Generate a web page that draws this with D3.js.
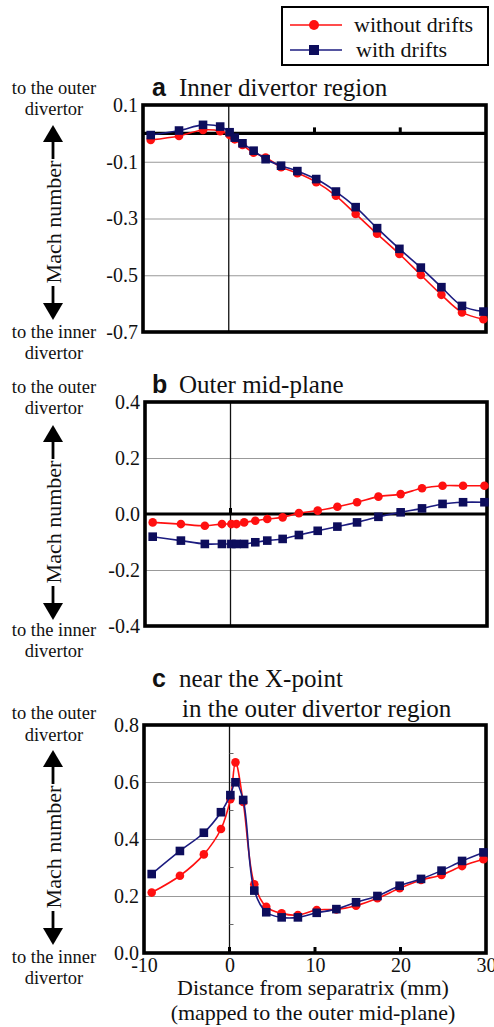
<!DOCTYPE html>
<html>
<head>
<meta charset="utf-8">
<script src="https://d3js.org/d3.v7.min.js"></script>
<style>
  body { margin: 0; background: #fff; }
  text { font-family: "Liberation Serif", "Times New Roman", serif; fill: #111; }
  .grid line { stroke: #999; stroke-width: 1.2; }
  .grid path { display: none; }
</style>
</head>
<body>
<script>
// distance from separatrix (mm), same points for every panel
var xs = [-9.1, -5.8, -3.0, -1.0, 0.1, 0.7, 1.6, 2.9, 4.3, 6.1, 8.0, 10.2, 12.5, 14.8, 17.3, 19.9, 22.4, 24.8, 27.2, 29.7];

var innerNoDrift = [-0.023, -0.009, 0.012, 0.008, -0.006, -0.021, -0.041, -0.068, -0.085, -0.119, -0.140, -0.172, -0.220, -0.284, -0.354, -0.425, -0.499, -0.569, -0.631, -0.655];
var innerDrift   = [-0.006, 0.010, 0.030, 0.024, 0.004, -0.015, -0.035, -0.061, -0.091, -0.114, -0.133, -0.161, -0.205, -0.260, -0.334, -0.407, -0.473, -0.542, -0.608, -0.628];

var midNoDrift = [-0.030, -0.036, -0.042, -0.036, -0.036, -0.036, -0.030, -0.024, -0.018, -0.012, 0.003, 0.012, 0.026, 0.042, 0.062, 0.071, 0.092, 0.101, 0.101, 0.101];
var midDrift   = [-0.081, -0.095, -0.107, -0.107, -0.107, -0.107, -0.107, -0.101, -0.095, -0.089, -0.075, -0.060, -0.045, -0.030, -0.010, 0.006, 0.020, 0.036, 0.042, 0.042];

var xptNoDrift = [0.212, 0.271, 0.346, 0.435, 0.540, 0.669, 0.530, 0.241, 0.162, 0.139, 0.133, 0.151, 0.153, 0.166, 0.192, 0.227, 0.256, 0.274, 0.305, 0.329];
var xptDrift   = [0.277, 0.358, 0.422, 0.494, 0.554, 0.599, 0.537, 0.219, 0.143, 0.125, 0.125, 0.141, 0.154, 0.178, 0.200, 0.236, 0.260, 0.289, 0.323, 0.353];

var yTicksA = [0.1, -0.1, -0.3, -0.5, -0.7];
var yLabelsA = ["0.1", "-0.1", "-0.3", "-0.5", "-0.7"];
var yTicksB = [0.4, 0.2, 0, -0.2, -0.4];
var yLabelsB = ["0.4", "0.2", "0.0", "-0.2", "-0.4"];
var yTicksC = [0.8, 0.6, 0.4, 0.2, 0];
var yLabelsC = ["0.8", "0.6", "0.4", "0.2", "0.0"];
var xTicks = [-10, 0, 10, 20, 30];
var xLabels = ["-10", "0", "10", "20", "30"];

var seriesNames = ["without drifts", "with drifts"];
var red = "#ff1010", navy = "#1c1c80", navyDark = "#0d0d5c";

var svg = d3.select("body").append("svg")
  .attr("width", 494).attr("height", 1027);

var panels = [
  { letter: "a", title: ["Inner divertor region"], left: 143, right: 486, top: 105, bottom: 332,
    dom: [-0.7, 0.1], ticks: yTicksA, labels: yLabelsA, grid: [-0.5, -0.3, -0.1], zero: true, zeroTicks: [10, 20],
    s1: innerNoDrift, s2: innerDrift,
    lab: { outer: 94, outer2: 115, upTip: 125, mach: 222, downTip: 320, inner: 338, inner2: 359 } },
  { letter: "b", title: ["Outer mid-plane"], left: 145, right: 487, top: 402, bottom: 626,
    dom: [-0.4, 0.4], ticks: yTicksB, labels: yLabelsB, grid: [-0.2, 0.2], zero: true, zeroTicks: [0],
    s1: midNoDrift, s2: midDrift,
    lab: { outer: 393, outer2: 414, upTip: 425, mach: 522, downTip: 620, inner: 636, inner2: 657 } },
  { letter: "c", title: ["near the X-point", "in the outer divertor region"], left: 144, right: 486, top: 725, bottom: 953,
    dom: [0, 0.8], ticks: yTicksC, labels: yLabelsC, grid: [0.2, 0.4, 0.6], zero: false, zeroTicks: [0, 10, 20],
    s1: xptNoDrift, s2: xptDrift, xAxis: true,
    lab: { outer: 719, outer2: 741, upTip: 750, mach: 847, downTip: 945, inner: 963, inner2: 984 } }
];

function arrow(g, x, tip, dir) {
  // dir -1 = pointing up, +1 = pointing down
  var h = 17, w = 10;
  var shaftEnd = dir < 0 ? tip + 34 : tip - 34;
  g.append("line").attr("x1", x).attr("x2", x)
    .attr("y1", tip - dir * h + dir * 1).attr("y2", shaftEnd)
    .attr("stroke", "#000").attr("stroke-width", 2.8);
  g.append("path")
    .attr("d", "M" + x + "," + tip + "L" + (x - w) + "," + (tip - dir * h) + "L" + (x + w) + "," + (tip - dir * h) + "Z")
    .attr("fill", "#000");
}

panels.forEach(function(p) {
  var x = d3.scaleLinear().domain([-10, 30]).range([p.left, p.right]);
  var y = d3.scaleLinear().domain(p.dom).range([p.bottom, p.top]);
  var g = svg.append("g");
  var w = p.right - p.left;

  // grid lines
  g.append("g").attr("class", "grid")
    .attr("transform", "translate(" + p.left + ",0)")
    .call(d3.axisLeft(y).tickValues(p.grid).tickSize(-w).tickFormat(""));

  // vertical separatrix line
  g.append("line").attr("x1", x(0)).attr("x2", x(0))
    .attr("y1", p.top).attr("y2", p.bottom)
    .attr("stroke", "#111").attr("stroke-width", 1.3);

  if (p.letter === "c") {
    [0.1, 0.3, 0.5, 0.7].forEach(function(v) {
      g.append("line").attr("x1", x(0)).attr("x2", x(0) + 4)
        .attr("y1", y(v)).attr("y2", y(v)).attr("stroke", "#666").attr("stroke-width", 1);
    });
  }

  // zero line
  var baseY = p.zero ? y(0) : p.bottom;
  if (p.zero) {
    g.append("line").attr("x1", p.left).attr("x2", p.right)
      .attr("y1", y(0)).attr("y2", y(0))
      .attr("stroke", "#000").attr("stroke-width", 3.2);
  }
  p.zeroTicks.forEach(function(t) {
    g.append("line").attr("x1", x(t)).attr("x2", x(t))
      .attr("y1", baseY).attr("y2", baseY - 6)
      .attr("stroke", "#000").attr("stroke-width", 3);
  });

  // frame
  g.append("rect").attr("x", p.left).attr("y", p.top)
    .attr("width", w).attr("height", p.bottom - p.top)
    .attr("fill", "none").attr("stroke", "#000").attr("stroke-width", 3.6);

  // y tick labels
  var ya = g.append("g").attr("transform", "translate(" + (p.left - 5) + ",0)")
    .call(d3.axisLeft(y).tickValues(p.ticks).tickSize(0).tickPadding(0)
      .tickFormat(function(d, i) { return p.labels[i]; }));
  ya.select(".domain").remove();
  ya.selectAll("text").style("font-size", "20px").attr("fill", "#111")
    .style("font-family", "'Liberation Serif', serif");

  // x tick labels
  if (p.xAxis) {
    var xa = g.append("g").attr("transform", "translate(0," + p.bottom + ")")
      .call(d3.axisBottom(x).tickValues(xTicks).tickSize(0).tickPadding(5)
        .tickFormat(function(d, i) { return xLabels[i]; }));
    xa.select(".domain").remove();
    xa.selectAll("text").style("font-size", "20px").attr("fill", "#111")
      .style("font-family", "'Liberation Serif', serif");
    g.append("text").attr("x", 313).attr("y", 995).attr("text-anchor", "middle")
      .style("font-size", "22px").text("Distance from separatrix (mm)");
    g.append("text").attr("x", 313).attr("y", 1020).attr("text-anchor", "middle")
      .style("font-size", "22px").text("(mapped to the outer mid-plane)");
  }

  // lines and markers
  var pts1 = xs.map(function(d, i) { return [d, p.s1[i]]; });
  var pts2 = xs.map(function(d, i) { return [d, p.s2[i]]; });
  var line = d3.line().x(function(d) { return x(d[0]); }).y(function(d) { return y(d[1]); })
    .curve(d3.curveCatmullRom.alpha(0.5));

  g.append("path").datum(pts1).attr("d", line).attr("fill", "none")
    .attr("stroke", red).attr("stroke-width", 1.6);
  g.selectAll(".dot").data(pts1).enter().append("circle")
    .attr("cx", function(d) { return x(d[0]); }).attr("cy", function(d) { return y(d[1]); })
    .attr("r", 4.3).attr("fill", red);

  g.append("path").datum(pts2).attr("d", line).attr("fill", "none")
    .attr("stroke", navy).attr("stroke-width", 1.6);
  g.selectAll(".sq").data(pts2).enter().append("rect")
    .attr("x", function(d) { return x(d[0]) - 4.3; }).attr("y", function(d) { return y(d[1]) - 4.3; })
    .attr("width", 8.6).attr("height", 8.6).attr("fill", navyDark);

  // title
  var ty = p.title.length > 1 ? 687 : p.top - 9;
  g.append("text").attr("x", 152).attr("y", ty)
    .style("font-family", "'Liberation Sans', Arial, sans-serif").style("font-weight", "bold")
    .style("font-size", "25px").attr("fill", "#000").text(p.letter);
  g.append("text").attr("x", 179).attr("y", ty).style("font-size", "25px").text(p.title[0]);
  if (p.title.length > 1) {
    g.append("text").attr("x", 182).attr("y", 717).style("font-size", "25px").text(p.title[1]);
  }

  // left annotation
  var cx = 54;
  g.append("text").attr("x", cx).attr("y", p.lab.outer).attr("text-anchor", "middle").style("font-size", "18.5px").text("to the outer");
  g.append("text").attr("x", cx).attr("y", p.lab.outer2).attr("text-anchor", "middle").style("font-size", "18.5px").text("divertor");
  g.append("text").attr("x", cx).attr("y", p.lab.inner).attr("text-anchor", "middle").style("font-size", "18.5px").text("to the inner");
  g.append("text").attr("x", cx).attr("y", p.lab.inner2).attr("text-anchor", "middle").style("font-size", "18.5px").text("divertor");
  g.append("text").attr("transform", "translate(" + (cx + 7) + "," + p.lab.mach + ") rotate(-90)")
    .attr("text-anchor", "middle").style("font-size", "22px").text("Mach number");
  arrow(g, cx - 1, p.lab.upTip, -1);
  arrow(g, cx - 1, p.lab.downTip, 1);
});

// legend
var leg = svg.append("g");
leg.append("rect").attr("x", 282).attr("y", 7).attr("width", 206).attr("height", 58)
  .attr("fill", "#fff").attr("stroke", "#000").attr("stroke-width", 2);
leg.append("line").attr("x1", 290).attr("x2", 342).attr("y1", 25).attr("y2", 25)
  .attr("stroke", red).attr("stroke-width", 1.6);
leg.append("circle").attr("cx", 314).attr("cy", 25).attr("r", 5).attr("fill", red);
leg.append("line").attr("x1", 290).attr("x2", 342).attr("y1", 50).attr("y2", 50)
  .attr("stroke", navy).attr("stroke-width", 1.6);
leg.append("rect").attr("x", 309).attr("y", 45).attr("width", 10).attr("height", 10).attr("fill", navyDark);
leg.append("text").attr("x", 354).attr("y", 32).style("font-size", "22px").text(seriesNames[0]);
leg.append("text").attr("x", 356).attr("y", 57).style("font-size", "22px").text(seriesNames[1]);
</script>
</body>
</html>
